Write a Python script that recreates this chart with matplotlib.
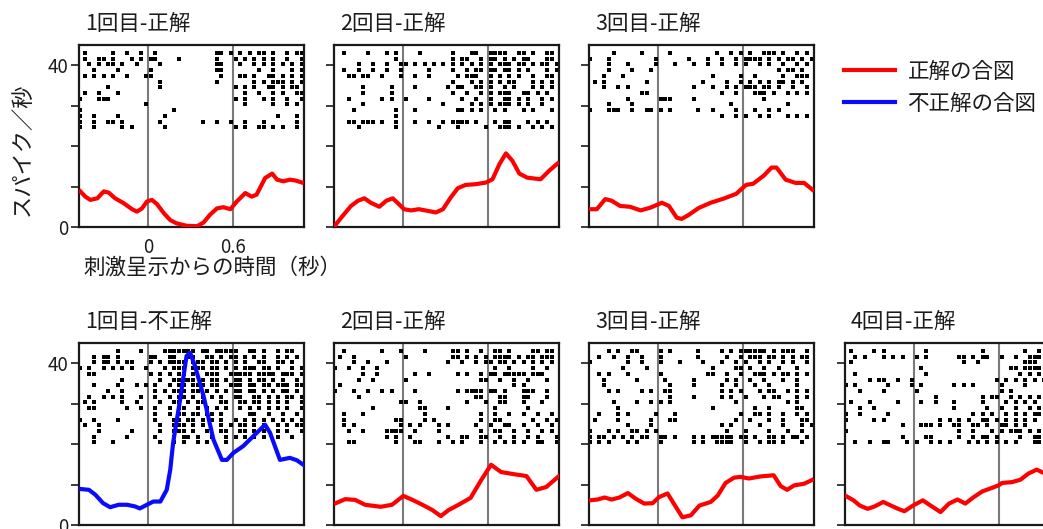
import matplotlib
matplotlib.use("Agg")
import matplotlib.pyplot as plt
from matplotlib.lines import Line2D

plt.rcParams["font.family"] = ["Noto Sans CJK JP", "DejaVu Sans"]

# ── raster bins: 1/30 s bins starting at -0.5 s, one list per trial row ──
BIN = 1 / 30
T0 = -0.5

raster_top1 = [
    [1, 7, 10, 13, 16, 29, 30, 32, 34, 36, 38, 39, 41, 44, 46, 47],
    [1, 4, 5, 7, 11, 13, 15, 16, 21, 29, 33, 35, 37, 39, 41, 44, 47],
    [2, 4, 6, 7, 9, 12, 17, 29, 30, 34, 37, 39, 41, 43, 45, 47],
    [3, 8, 15, 29, 30, 38, 41, 45, 47],
    [1, 3, 5, 7, 10, 14, 15, 30, 34, 35, 37, 40, 41, 43, 45, 47],
    [17, 29, 37, 39, 41, 42, 43, 45, 47],
    [6, 17, 33, 35, 37, 40, 41, 43, 45, 46],
    [1, 4, 8, 35, 38, 41, 43, 46, 47],
    [0, 4, 5, 6, 33, 35, 39, 41, 44, 47],
    [14, 35, 41, 44, 46],
    [0, 20],
    [0, 3, 8, 18, 42, 46],
    [0, 3, 6, 7, 9, 17, 26, 29, 32, 35, 39, 46],
    [0, 3, 9, 11, 18, 33, 35, 38, 39, 41, 43, 46],
]
raster_top2 = [
    [2, 7, 11, 13, 18, 25, 29, 30, 33, 34, 35, 36, 39, 40, 42, 45, 46],
    [13, 25, 27, 28, 31, 33, 34, 36, 38, 40, 41, 45, 46],
    [5, 8, 11, 14, 15, 17, 19, 21, 23, 25, 27, 29, 31, 33, 35, 36, 37, 39, 40, 42, 44, 45, 47],
    [2, 5, 8, 11, 14, 20, 25, 28, 30, 31, 33, 34, 36, 37, 39, 41, 45, 47],
    [3, 4, 6, 7, 10, 14, 17, 20, 26, 28, 29, 30, 33, 35, 37, 39, 42, 45, 46],
    [25, 29, 31, 33, 35, 37, 38, 42, 44, 46],
    [6, 12, 17, 24, 26, 27, 30, 31, 33, 36, 38, 42, 44, 46],
    [6, 12, 25, 28, 31, 33, 35, 36, 37, 40, 41, 43, 45],
    [3, 10, 12, 15, 20, 27, 30, 33, 36, 37, 39, 41, 44, 46],
    [6, 23, 29, 31, 33, 35, 36, 37, 39, 41, 44],
    [4, 13, 17, 26, 27, 29, 31, 34, 36, 40, 42, 46],
    [13],
    [3, 4, 6, 7, 8, 10, 13, 17, 20, 23, 25, 26, 27, 28, 30, 34, 36, 37, 41, 43, 45],
    [5, 13, 22, 26, 32, 35, 36, 37, 39, 42, 44, 46],
]
raster_top3 = [
    [5, 11, 17, 27, 30, 32, 34, 37, 38, 39, 41, 44, 46],
    [0, 4, 14, 21, 25, 28, 31, 33, 34, 35, 36, 38, 40, 42, 43, 45, 47],
    [4, 8, 14, 18, 22, 25, 28, 31, 33, 36, 38, 41, 44, 46],
    [4, 9, 13, 40, 42, 43, 45],
    [3, 7, 26, 32, 35, 41, 44, 45, 46],
    [1, 3, 12, 24, 29, 32, 34, 36, 38, 40, 41, 43, 45],
    [3, 6, 8, 22, 26, 29, 31, 33, 34, 35, 37, 38, 40, 43, 46],
    [11, 12, 28, 31, 35, 36, 37, 39, 42, 44, 46],
    [8, 15, 16, 17, 22, 37],
    [4, 9, 30, 42],
    [0, 4, 5, 6, 9, 12, 13, 15, 17, 23, 26, 31, 35, 38, 40],
    [28, 31, 33, 36, 38, 42, 44, 46],
]
raster_bot1 = [
    [8, 13, 18, 19, 20, 21, 22, 23, 24, 26, 27, 29, 30, 31, 32, 33, 36, 37, 39, 42, 44, 45],
    [3, 5, 6, 8, 15, 16, 19, 20, 23, 24, 27, 28, 30, 32, 33, 35, 37, 39, 42, 44, 46],
    [3, 5, 6, 8, 10, 11, 15, 17, 19, 20, 21, 22, 24, 25, 26, 28, 29, 31, 33, 35, 38, 39, 42, 43, 45],
    [0, 2, 5, 7, 9, 11, 14, 18, 20, 21, 22, 24, 25, 26, 28, 29, 31, 33, 35, 36, 37, 39, 40, 42, 45, 47],
    [2, 3, 15, 17, 19, 21, 22, 24, 27, 28, 29, 32, 33, 34, 35, 36, 38, 39, 40, 41, 43, 44, 45, 47],
    [9, 17, 20, 21, 22, 23, 24, 26, 28, 29, 31, 33, 34, 36, 38, 39, 41, 43, 46],
    [3, 8, 12, 14, 16, 19, 21, 22, 24, 25, 26, 28, 29, 32, 33, 34, 36, 37, 39, 40, 42, 43, 44, 46, 47],
    [6, 9, 16, 18, 20, 21, 22, 24, 25, 27, 29, 31, 33, 34, 36, 37, 39, 41, 43, 44, 46],
    [2, 5, 7, 9, 13, 16, 19, 21, 22, 24, 26, 28, 30, 33, 34, 37, 38, 40, 42, 44, 45, 47],
    [1, 3, 9, 12, 17, 20, 21, 23, 25, 26, 30, 31, 34, 35, 37, 38, 40, 42, 44, 47],
    [2, 3, 10, 13, 16, 19, 21, 22, 25, 27, 29, 31, 34, 36, 38, 40, 42, 44, 47],
    [16, 19, 21, 22, 24, 25, 27, 28, 30, 36, 37, 40, 43, 46],
    [0, 3, 8, 16, 20, 21, 23, 24, 26, 28, 30, 33, 35, 37, 39, 41, 43, 45, 47],
    [1, 4, 17, 20, 21, 22, 24, 26, 30, 32, 34, 35, 37, 39, 42, 44, 46, 47],
    [4, 11, 17, 20, 21, 22, 24, 27, 30, 31, 34, 35, 37, 39, 42, 44, 47],
    [3, 10, 16, 20, 22, 23, 25, 28, 31, 33, 35, 37, 39, 42, 45],
    [3, 7, 17, 20, 22, 25, 27, 31],
]
raster_bot2 = [
    [2, 10, 14, 19, 25, 26, 28, 31, 34, 35, 37, 42, 43, 45, 46],
    [1, 4, 15, 25, 26, 28, 30, 32, 34, 35, 36, 37, 39, 41, 42, 44, 45, 46],
    [4, 7, 11, 24, 27, 30, 32, 33, 35, 36, 38, 40, 42, 44, 46],
    [0, 3, 6, 9, 34, 37, 42, 45],
    [6, 9, 17, 20, 26, 28, 31, 33, 34, 36, 37, 38, 39, 40, 42, 43, 44],
    [5, 8, 15, 31, 32, 35, 38, 41, 45],
    [1, 38, 40],
    [0, 4, 7, 10, 12, 17, 26, 28, 29, 30, 31, 33, 34, 36, 40, 41, 42, 45],
    [5, 30, 31, 35, 36, 40, 41, 45],
    [14, 15, 18, 28, 32, 35, 36, 40, 44],
    [8, 18, 19, 24, 34, 41],
    [2, 6, 19, 31, 34, 37, 40, 43, 46],
    [2, 13, 14, 19, 21, 31, 34, 35, 42, 45, 47],
    [2, 4, 14, 16, 18, 22, 24, 30, 33, 36, 37, 40, 43, 46],
    [3, 6, 11, 12, 13, 14, 17, 22, 31, 34, 35, 38, 41, 44, 46],
    [11, 13, 16, 24, 27, 28, 31, 32, 35, 38, 41, 43, 47],
    [3, 4, 13, 17, 18, 22, 25, 27, 31, 34, 36, 38, 40, 43, 44, 47],
]
raster_bot3 = [
    [4, 6, 9, 10, 15, 17, 23, 28, 30, 32, 33, 34, 35, 36, 37, 39, 41, 42, 43, 46],
    [2, 5, 8, 11, 15, 23, 29, 32, 34, 35, 36, 38, 39, 41, 43, 45, 46],
    [0, 8, 11, 15, 19, 24, 28, 31, 33, 36, 38, 41, 43, 46],
    [7, 12, 26, 31, 32, 34, 37, 40, 44],
    [2, 4, 8, 15, 25, 26, 29, 32, 35, 36, 37, 39, 41, 42, 44, 46],
    [3, 10, 16, 22, 29, 31, 34, 37, 41, 44],
    [3, 17, 22, 28, 31, 35, 38, 44],
    [4, 6, 11, 13, 16, 17, 28, 30, 32, 36, 38, 39, 42, 44, 46],
    [17, 22, 28, 30, 33, 37, 39, 40, 44, 46],
    [5, 10, 13, 15, 17, 31, 42, 44],
    [6, 26, 35, 38, 44, 45],
    [2, 6, 8, 14, 18, 32, 35, 36, 38, 41, 44, 46],
    [1, 6, 13, 17, 18, 31, 34, 38, 41, 45, 46],
    [8, 13, 28, 30, 36, 41, 45, 47],
    [0, 4, 6, 9, 10, 12, 14, 29, 33, 38, 42, 45],
    [0, 2, 3, 5, 7, 9, 11, 12, 15, 16, 18, 22, 24, 26, 27, 28, 29, 30, 32, 33, 35, 38, 39, 41, 43, 44, 46],
    [0, 2, 4, 8, 10, 15, 22, 24, 27, 28, 29, 30, 33, 36, 38, 39, 41, 45],
]
raster_bot4 = [
    [1, 6, 8, 17, 29, 38, 41],
    [2, 4, 8, 10, 12, 15, 17, 24, 25, 27, 29, 30, 33, 36, 39, 40, 41],
    [1, 25, 28, 38, 39, 40],
    [16, 35, 36, 38, 39, 40, 41],
    [2, 17, 37, 39, 41],
    [5, 7, 8, 11, 14, 32, 34, 36, 38, 40, 42],
    [0, 2, 9, 14, 16, 23, 25, 27, 33, 38],
    [3, 8, 15, 33, 35],
    [19, 29, 31, 32, 35, 37, 39, 41],
    [1, 5, 11, 16, 19, 23, 29, 34, 36, 38, 40],
    [3, 6, 23, 30, 33, 36, 39, 41],
    [0, 3, 9, 27, 29, 31, 34, 36, 38, 40, 41],
    [0, 6, 8, 20, 22, 24, 26, 29, 30, 32, 34, 36, 38, 40],
    [12, 16, 17, 18, 20, 23, 24, 27, 28, 30, 33, 34, 36, 38],
    [0, 24, 27, 31, 33, 35, 36, 37, 39, 41],
    [12, 17, 18, 24, 27, 29, 30, 32, 37, 40, 41],
    [2, 5, 8, 9, 13, 15, 18, 20, 22, 26, 28, 30, 32, 34, 36, 40, 41],
]

# ── firing rate curves (spikes/s) ──
t_top1 = [-0.48, -0.445, -0.41, -0.36, -0.315, -0.28, -0.235, -0.175, -0.115, -0.08, -0.045,
          -0.01, 0.025, 0.06, 0.11, 0.155, 0.2, 0.27, 0.345, 0.39, 0.435, 0.485, 0.53, 0.58,
          0.625, 0.685, 0.73, 0.765, 0.825, 0.875, 0.91, 0.955, 1.0, 1.04, 1.085]
rate_top1 = [8.8, 7.5, 6.7, 7.1, 8.8, 8.5, 7.1, 5.9, 4.4, 3.8, 4.6, 6.3, 6.7, 5.7, 3.4, 1.7,
             0.9, 0.3, 0.2, 1.1, 3.0, 4.6, 4.9, 4.4, 6.3, 8.4, 7.5, 8.0, 12.1, 13.2, 11.7,
             11.3, 11.7, 11.5, 11.0]
t_top2 = [-0.48, -0.43, -0.37, -0.32, -0.275, -0.23, -0.17, -0.12, -0.075, -0.03, 0.005,
          0.055, 0.11, 0.17, 0.23, 0.28, 0.335, 0.385, 0.44, 0.515, 0.585, 0.63, 0.68, 0.725,
          0.77, 0.82, 0.875, 0.97, 1.03, 1.09]
rate_top2 = [0.5, 2.7, 5.2, 6.5, 7.1, 6.0, 5.0, 6.5, 7.1, 5.6, 4.4, 4.1, 4.4, 4.0, 3.6, 4.4,
             7.3, 9.6, 10.4, 10.6, 11.0, 11.8, 15.6, 18.2, 16.4, 13.2, 12.2, 11.8, 13.9, 15.7]
t_top3 = [-0.48, -0.435, -0.375, -0.33, -0.27, -0.2, -0.125, -0.055, 0.025, 0.075, 0.13,
          0.165, 0.215, 0.285, 0.37, 0.46, 0.55, 0.62, 0.67, 0.745, 0.8, 0.835, 0.9, 0.97,
          1.03, 1.09]
rate_top3 = [4.4, 4.4, 6.9, 6.5, 5.2, 5.0, 4.1, 4.8, 6.0, 5.2, 2.3, 2.0, 3.0, 4.7, 6.0, 7.0,
             8.2, 10.4, 10.7, 12.7, 14.7, 14.7, 11.7, 10.9, 10.9, 9.2]
t_bot1 = [-0.48, -0.42, -0.375, -0.32, -0.27, -0.21, -0.15, -0.095, -0.06, -0.01, 0.035,
          0.085, 0.13, 0.155, 0.175, 0.225, 0.27, 0.295, 0.33, 0.39, 0.46, 0.52, 0.555, 0.6,
          0.67, 0.74, 0.825, 0.86, 0.93, 1.0, 1.05, 1.095]
rate_bot1 = [8.9, 8.7, 7.5, 5.4, 4.4, 5.0, 5.0, 4.6, 4.1, 5.0, 5.8, 5.8, 8.7, 13.7, 20.3,
             31.1, 41.8, 42.6, 39.3, 31.9, 21.1, 16.1, 16.1, 17.8, 19.5, 21.9, 24.8, 22.8,
             16.1, 16.6, 16.0, 14.9]
t_bot2 = [-0.477, -0.41, -0.34, -0.27, -0.16, -0.08, 0.0, 0.065, 0.135, 0.205, 0.265, 0.32,
          0.39, 0.475, 0.55, 0.62, 0.69, 0.775, 0.87, 0.94, 1.01, 1.1]
rate_bot2 = [5.4, 6.4, 6.2, 5.0, 4.5, 5.0, 7.2, 6.2, 5.0, 3.7, 2.2, 3.7, 5.0, 6.7, 11.1,
             14.9, 13.1, 12.6, 12.1, 8.7, 9.4, 12.1]
t_bot3 = [-0.486, -0.43, -0.38, -0.33, -0.275, -0.215, -0.16, -0.1, -0.04, 0.005, 0.065,
          0.125, 0.17, 0.23, 0.29, 0.37, 0.42, 0.475, 0.535, 0.58, 0.64, 0.72, 0.815, 0.865,
          0.91, 0.96, 1.03, 1.085]
rate_bot3 = [6.1, 6.3, 6.8, 6.3, 6.8, 7.9, 6.5, 5.3, 5.4, 6.9, 7.8, 4.4, 1.9, 2.4, 4.8, 5.7,
             7.3, 10.4, 11.7, 11.9, 11.5, 12.0, 12.3, 9.6, 8.7, 9.8, 10.2, 11.1]
t_bot4 = [-0.48, -0.43, -0.385, -0.33, -0.28, -0.22, -0.165, -0.115, -0.07, -0.01, 0.06,
          0.115, 0.185, 0.245, 0.305, 0.36, 0.42, 0.48, 0.535, 0.595, 0.62, 0.69, 0.75,
          0.805, 0.865, 0.9]
rate_bot4 = [7.1, 6.1, 4.8, 4.0, 4.6, 5.7, 4.8, 4.0, 3.4, 4.8, 6.1, 4.8, 3.2, 5.3, 6.3, 5.3,
             6.9, 8.3, 9.0, 9.8, 10.4, 10.6, 11.2, 12.7, 13.7, 13.1]

titles_top = ["1回目-正解", "2回目-正解", "3回目-正解"]
titles_bot = ["1回目-不正解", "2回目-正解", "3回目-正解", "4回目-正解"]
legend_labels = ["正解の合図", "不正解の合図"]
events = [0.0, 0.6]

RED = "#ff0000"
BLUE = "#0a0aff"
TXT = "#1c1c1c"

W, H = 1043, 529
fig = plt.figure(figsize=(W / 100, H / 100), dpi=100)

ROW_TOP, ROW_STEP = 43.0, 1.41


def panel(left, top, title, raster, t, rate, color, first=False, xlabels=False):
    ax = fig.add_axes([left / W, 1 - (top + 182) / H, 225 / W, 182 / H])
    xs, ys = [], []
    for i, row in enumerate(raster):
        for b in row:
            xs.append(T0 + (b + 0.5) * BIN)
            ys.append(ROW_TOP - i * ROW_STEP)
    ax.scatter(xs, ys, s=5.5, marker="s", color="black", linewidths=0, zorder=2)
    for ev in events:
        ax.axvline(ev, color="#7a7a7a", lw=1.5, zorder=1)
    ax.plot(t, rate, color=color, lw=3.0, solid_joinstyle="round", zorder=3)
    ax.set_xlim(-0.49, 1.1)
    ax.set_ylim(0, 45)
    for sp in ax.spines.values():
        sp.set_linewidth(1.6)
        sp.set_color("#1a1a1a")
    ax.set_yticks([0, 10, 20, 30, 40])
    if first:
        ax.set_yticklabels(["0", "", "", "", "40"])
    else:
        ax.set_yticklabels([""] * 5)
    ax.tick_params(axis="y", length=6, width=1.2, pad=2, labelsize=13.5, colors="#1a1a1a",
                   labelcolor=TXT)
    if xlabels:
        ax.set_xticks(events)
        ax.set_xticklabels(["0", "0.6"])
        ax.tick_params(axis="x", length=0, pad=7, labelsize=13.5, labelcolor=TXT)
    else:
        ax.set_xticks([])
    ax.text(0.027, 1.118, title, transform=ax.transAxes, fontsize=15.5, color=TXT,
            ha="left", va="center")
    return ax


panel(79, 45, titles_top[0], raster_top1, t_top1, rate_top1, RED, first=True, xlabels=True)
panel(334, 45, titles_top[1], raster_top2, t_top2, rate_top2, RED)
panel(589, 45, titles_top[2], raster_top3, t_top3, rate_top3, RED)
panel(79, 343, titles_bot[0], raster_bot1, t_bot1, rate_bot1, BLUE, first=True)
panel(334, 343, titles_bot[1], raster_bot2, t_bot2, rate_bot2, RED)
panel(589, 343, titles_bot[2], raster_bot3, t_bot3, rate_bot3, RED)
panel(845, 343, titles_bot[3], raster_bot4, t_bot4, rate_bot4, RED)

fig.text(22 / W, 1 - 149 / H, "スパイク／秒", rotation=90, fontsize=16, color=TXT,
         ha="center", va="center")
fig.text(83 / W, 1 - 268 / H, "刺激呈示からの時間（秒）", fontsize=15.5, color=TXT,
         ha="left", va="center")

handles = [Line2D([], [], color=RED, lw=3), Line2D([], [], color=BLUE, lw=3)]
fig.legend(handles, legend_labels, loc="upper left", bbox_to_anchor=(844 / W, 1 - 61 / H),
           frameon=False, fontsize=15.5, handlelength=2.35, handletextpad=0.6,
           labelspacing=0.45, borderpad=0, borderaxespad=0, labelcolor=TXT)

fig.savefig("out.png", dpi=100)
